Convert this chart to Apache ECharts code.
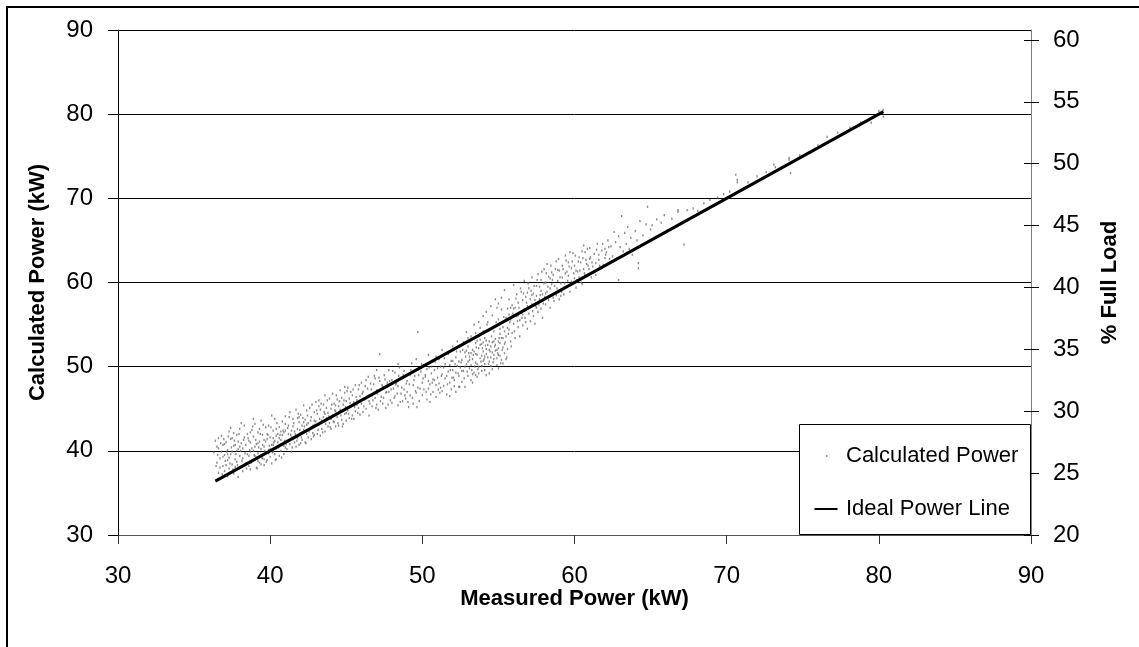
<!DOCTYPE html>
<html>
<head>
<meta charset="utf-8">
<script src="https://cdn.jsdelivr.net/npm/echarts@6/dist/echarts.min.js"></script>
<style>
html,body{margin:0;padding:0;background:#fff}
#chart{width:1139px;height:647px}
</style>
</head>
<body>
<div id="chart"></div>
<script>
// Axis ranges and tick values
const measuredTicks = [30, 40, 50, 60, 70, 80, 90];
const calculatedTicks = [30, 40, 50, 60, 70, 80, 90];
const fullLoadTicks = [20, 25, 30, 35, 40, 45, 50, 55, 60];
const fullLoadRange = [20, 60.8];

// Ideal power line: calculated equals measured
const idealLine = [[36.4, 36.4], [80.3, 80.3]];

// Calculated vs measured power samples [measured kW, calculated kW], by measured band
const band36to38 = [
  [36.3,39.8],[36.4,41.2],[36.5,38.6],[36.6,40.3],[36.6,37.4],[36.7,39.1],[36.8,41.8],[36.9,38.2],[36.9,40.7],[37.0,39.5],
  [37.0,37.6],[37.1,41.0],[37.2,38.9],[37.2,40.1],[37.3,42.3],[37.3,37.9],[37.4,39.6],[37.5,38.4],[37.5,41.5],[37.6,40.6],
  [37.6,37.3],[37.7,39.0],[37.8,41.9],[37.8,38.7],[37.9,40.2],[37.9,36.9],[38.0,39.4],[38.0,42.6],[38.1,38.1],[38.1,40.9],
  [36.7,38.0],[36.8,39.9],[37.0,40.8],[37.1,38.3],[37.4,41.4],[37.5,39.9],[37.7,38.1],[37.9,41.1],[38.0,40.5],[37.3,39.2],
  [36.5,40.5],[36.9,39.3],[37.2,37.0],[37.6,42.1],[37.8,40.0],[38.2,39.1],[38.2,37.6],[38.3,41.6],[38.3,43.0],[38.4,38.5]
];
const band38to40 = [
  [38.4,40.7],[38.5,39.6],[38.5,42.0],[38.6,38.2],[38.6,41.2],[38.7,39.9],[38.7,37.8],[38.8,42.5],[38.8,40.3],[38.9,38.9],
  [38.9,41.7],[39.0,39.4],[39.0,43.2],[39.1,40.8],[39.1,38.0],[39.2,42.2],[39.2,39.7],[39.3,41.1],[39.3,38.6],[39.4,40.2],
  [39.4,43.6],[39.5,39.1],[39.5,41.9],[39.6,40.5],[39.6,38.3],[39.7,42.8],[39.7,39.8],[39.8,41.4],[39.8,38.9],[39.9,40.1],
  [39.9,43.0],[40.0,39.3],[40.0,41.6],[40.1,40.7],[40.1,38.5],[40.2,42.4],[40.2,39.9],[40.3,41.2],[40.3,43.8],[40.4,40.3],
  [40.4,39.0],[40.5,42.0],[40.5,41.0],[38.6,39.4],[38.9,40.0],[39.2,40.9],[39.5,40.7],[39.8,42.0],[40.0,40.2],[40.3,39.6],
  [38.7,41.0],[39.0,40.5],[39.3,42.6],[39.6,41.3],[39.9,39.7],[40.2,41.5],[40.4,42.6],[39.1,39.2],[39.4,38.4],[40.1,44.2]
];
const band37to41b = [
  [36.45,38.2],[36.55,39.5],[36.75,40.9],[36.85,37.2],[36.95,41.4],[37.05,38.8],[37.15,39.9],[37.25,41.7],[37.35,38.5],[37.45,40.4],
  [37.55,37.8],[37.65,41.2],[37.75,39.6],[37.85,38.3],[37.95,42.0],[38.05,40.0],[38.15,38.8],[38.25,41.3],[38.35,39.7],[38.45,37.9],
  [38.55,41.5],[38.65,40.1],[38.75,38.6],[38.85,42.9],[38.95,39.5],[39.05,41.3],[39.15,37.9],[39.25,40.4],[39.35,42.0],[39.45,39.2],
  [39.55,43.1],[39.65,40.0],[39.75,38.7],[39.85,41.9],[39.95,40.6],[40.05,42.8],[40.15,39.8],[40.25,41.0],[40.35,38.9],[40.45,43.3],
  [40.55,40.4],[40.65,41.9],[40.75,39.2],[40.85,42.4],[40.95,41.2],[37.2,39.6],[37.7,40.7],[38.2,40.3],[38.7,42.2],[39.2,38.8],
  [39.7,41.1],[40.2,40.7],[40.7,42.3],[36.6,41.5],[37.4,42.7],[38.1,43.3],[38.9,43.8],[39.6,39.0],[40.4,41.8],[41.0,43.2]
];
const band40to43 = [
  [40.6,39.4],[40.6,42.8],[40.7,41.3],[40.7,40.0],[40.8,43.5],[40.8,41.9],[40.9,40.6],[40.9,39.6],[41.0,42.4],[41.0,44.1],
  [41.1,41.2],[41.1,40.2],[41.2,43.0],[41.2,42.0],[41.3,40.8],[41.3,44.6],[41.4,41.6],[41.4,39.9],[41.5,42.9],[41.5,43.8],
  [41.6,41.0],[41.6,42.3],[41.7,40.5],[41.7,44.9],[41.8,42.6],[41.8,41.5],[41.9,43.4],[41.9,40.7],[42.0,42.1],[42.0,44.3],
  [42.1,41.3],[42.1,43.0],[42.2,45.4],[42.2,42.5],[42.3,41.0],[42.3,43.7],[42.4,42.0],[42.4,44.8],[42.5,41.6],[42.5,43.3],
  [42.6,42.6],[42.6,45.1],[42.7,41.4],[42.7,44.0],[42.8,43.0],[42.8,42.1],[42.9,44.6],[42.9,41.9],[43.0,43.5],[43.0,45.8],
  [40.6,41.5],[40.9,42.2],[41.2,41.1],[41.5,41.4],[41.8,43.9],[42.1,42.2],[42.4,43.1],[42.7,42.8],[41.0,40.4],[42.0,40.9]
];
const band43to46 = [
  [43.1,42.0],[43.1,44.4],[43.2,43.1],[43.2,46.0],[43.3,41.8],[43.3,44.9],[43.4,43.6],[43.4,42.6],[43.5,45.5],[43.5,44.0],
  [43.6,42.3],[43.6,46.6],[43.7,43.9],[43.7,45.1],[43.8,42.9],[43.8,44.5],[43.9,46.2],[43.9,43.3],[44.0,45.0],[44.0,42.6],
  [44.1,44.2],[44.1,46.8],[44.2,43.4],[44.2,45.6],[44.3,44.7],[44.3,42.9],[44.4,46.1],[44.4,44.0],[44.5,45.3],[44.5,43.0],
  [44.6,47.2],[44.6,44.9],[44.7,43.7],[44.7,46.3],[44.8,45.5],[44.8,43.2],[44.9,46.9],[44.9,44.4],[45.0,45.9],[45.0,43.6],
  [45.1,44.8],[45.1,47.5],[45.2,46.2],[45.2,43.9],[45.3,45.3],[45.3,47.0],[45.4,44.2],[45.4,46.6],[45.5,45.8],[45.5,43.8],
  [45.6,47.8],[45.6,44.7],[45.7,46.0],[45.8,45.1],[45.8,47.3],[45.9,44.3],[45.9,46.5],[46.0,45.6],[46.0,48.1],[44.0,43.8]
];
const band41to46b = [
  [41.05,40.8],[41.15,42.7],[41.25,44.0],[41.35,41.9],[41.45,40.4],[41.55,43.3],[41.65,42.0],[41.75,41.2],[41.85,44.4],[41.95,42.5],
  [42.05,41.6],[42.15,43.9],[42.25,42.9],[42.35,40.9],[42.45,44.2],[42.55,42.3],[42.65,43.6],[42.75,45.5],[42.85,41.7],[42.95,43.1],
  [43.05,44.8],[43.15,42.5],[43.25,43.8],[43.35,45.6],[43.45,42.2],[43.55,44.6],[43.65,43.2],[43.75,46.0],[43.85,44.1],[43.95,42.8],
  [44.05,45.5],[44.15,43.5],[44.25,44.8],[44.35,46.6],[44.45,43.3],[44.55,45.9],[44.65,44.2],[44.75,42.9],[44.85,46.0],[44.95,45.2],
  [45.05,47.1],[45.15,44.4],[45.25,45.7],[45.35,43.8],[45.45,47.3],[45.55,45.2],[45.65,46.4],[45.75,44.5],[45.85,47.8],[45.95,45.9],
  [41.4,42.4],[42.2,43.4],[42.9,43.6],[43.6,44.4],[44.3,45.4],[45.0,44.5],[45.7,45.5],[44.9,47.6],[43.2,45.3],[41.9,44.0]
];
const band46to50 = [
  [46.1,44.6],[46.1,47.0],[46.2,46.1],[46.3,48.4],[46.3,45.0],[46.4,47.4],[46.5,45.9],[46.5,44.2],[46.6,48.0],[46.7,46.6],
  [46.7,45.3],[46.8,47.9],[46.9,46.3],[46.9,48.6],[47.0,45.5],[47.0,47.2],[47.1,44.9],[47.2,48.3],[47.2,51.5],[47.3,46.4],
  [47.4,47.6],[47.4,45.6],[47.5,49.0],[47.6,46.9],[47.6,45.1],[47.7,48.1],[47.8,47.0],[47.8,49.6],[47.9,46.0],[48.0,48.4],
  [48.0,45.7],[48.1,47.4],[48.2,49.3],[48.2,46.5],[48.3,48.0],[48.4,45.4],[48.4,47.7],[48.5,49.9],[48.6,46.8],[48.6,48.7],
  [48.7,45.9],[48.8,47.3],[48.8,49.5],[48.9,46.2],[49.0,48.3],[49.0,47.0],[49.1,45.2],[49.2,49.0],[49.2,46.6],[49.3,50.4],
  [49.4,47.8],[49.4,45.6],[49.5,48.9],[49.6,46.9],[49.6,50.9],[49.7,54.1],[49.7,47.5],[49.8,45.9],[49.9,49.4],[50.0,48.1]
];
const band50to52 = [
  [50.0,46.6],[50.1,50.2],[50.1,47.3],[50.2,48.8],[50.3,46.1],[50.3,49.7],[50.4,51.4],[50.5,47.9],[50.5,45.8],[50.6,49.2],
  [50.7,50.6],[50.7,47.0],[50.8,48.4],[50.9,51.2],[50.9,46.4],[51.0,49.8],[51.1,48.0],[51.1,50.9],[51.2,47.5],[51.3,52.0],
  [51.3,49.1],[51.4,47.7],[51.5,50.3],[51.5,48.6],[51.6,46.7],[51.7,51.5],[51.7,49.4],[51.8,48.1],[51.9,50.7],[51.9,47.3],
  [52.0,52.4],[52.0,49.6],[52.1,48.4],[52.2,51.1],[52.2,47.0],[52.3,50.1],[52.3,53.0],[52.4,48.9],[52.5,51.8],[52.5,49.9],
  [50.2,49.0],[50.4,48.3],[50.6,50.0],[50.8,49.6],[51.0,48.7],[51.2,50.0],[51.4,49.9],[51.6,48.9],[51.8,50.2],[52.0,50.7],
  [52.2,49.3],[52.4,50.6],[50.9,47.8],[51.3,47.1],[51.8,46.5],[52.1,47.7],[50.4,47.4],[51.6,51.6],[52.4,47.6],[50.7,48.5]
];
const band46to52b = [
  [46.05,46.8],[46.15,45.3],[46.25,47.7],[46.35,46.4],[46.45,48.8],[46.55,45.6],[46.65,47.3],[46.75,46.0],[46.85,48.9],[46.95,45.1],
  [47.05,46.8],[47.15,48.7],[47.25,45.9],[47.35,47.8],[47.45,46.3],[47.55,48.5],[47.65,47.0],[47.75,45.5],[47.85,48.3],[47.95,47.3],
  [48.05,49.5],[48.15,46.3],[48.25,47.9],[48.35,46.8],[48.45,48.9],[48.55,45.8],[48.65,47.5],[48.75,49.0],[48.85,46.6],[48.95,48.0],
  [49.05,45.8],[49.15,47.9],[49.25,49.6],[49.35,46.3],[49.45,48.4],[49.55,47.1],[49.65,45.2],[49.75,49.0],[49.85,47.4],[49.95,50.3],
  [50.05,48.6],[50.25,47.0],[50.45,49.9],[50.65,48.1],[50.85,50.6],[51.05,47.3],[51.25,48.9],[51.45,51.0],[51.65,47.9],[51.85,49.6],
  [51.95,48.7],[50.55,46.7],[51.15,46.9],[47.0,49.6],[48.4,50.3]
];
const band52to55 = [
  [52.6,48.2],[52.6,50.8],[52.7,52.9],[52.7,49.5],[52.8,47.6],[52.8,51.7],[52.9,54.1],[52.9,50.3],[53.0,48.9],[53.0,52.4],
  [53.1,51.2],[53.1,49.8],[53.2,53.6],[53.2,48.4],[53.3,50.9],[53.3,52.0],[53.4,55.0],[53.4,49.3],[53.5,51.5],[53.5,50.5],
  [53.6,53.1],[53.6,48.8],[53.7,52.2],[53.7,50.0],[53.8,54.6],[53.8,51.0],[53.9,49.5],[53.9,52.7],[54.0,51.8],[54.0,56.0],
  [54.1,50.3],[54.1,53.4],[54.2,49.0],[54.2,52.1],[54.3,51.1],[54.3,55.3],[54.4,50.6],[54.4,53.0],[54.5,52.4],[54.5,57.2],
  [54.6,49.7],[54.6,51.7],[54.7,54.2],[54.7,50.9],[54.8,53.3],[54.8,58.0],[54.9,52.0],[54.9,50.2],[55.0,55.6],[55.0,51.4],
  [55.1,53.9],[55.1,52.8],[55.2,50.8],[55.2,56.8],[55.3,52.3],[55.3,54.7],[55.4,51.6],[55.4,59.1],[55.5,53.6],[55.5,55.8],
  [52.8,50.0],[53.0,50.6],[53.2,51.6],[53.4,51.8],[53.6,51.4],[53.8,52.6],[54.0,52.9],[54.2,53.1],[54.4,52.0],[54.6,52.9],
  [54.8,51.9],[55.0,53.0],[55.2,53.4],[55.4,54.2],[53.1,50.8],[53.5,52.8],[53.9,51.3],[54.3,52.6],[54.7,53.0],[55.1,51.3],
  [53.3,48.1],[53.7,49.2],[54.1,49.6],[54.5,50.1],[54.9,51.0],[55.3,50.4],[54.0,54.2],[54.6,56.1],[53.5,54.0],[55.0,57.5]
];
const band52to56b = [
  [52.05,48.7],[52.15,50.3],[52.25,51.8],[52.35,49.2],[52.45,47.6],[52.55,50.5],[52.65,52.0],[52.75,48.6],[52.85,51.2],[52.95,49.4],
  [53.05,51.6],[53.15,53.0],[53.25,49.6],[53.35,51.4],[53.45,50.0],[53.55,52.3],[53.65,49.7],[53.75,53.7],[53.85,50.6],[53.95,52.2],
  [54.05,50.9],[54.15,52.5],[54.25,55.0],[54.35,50.3],[54.45,51.8],[54.55,53.6],[54.65,50.5],[54.75,52.4],[54.85,55.3],[54.95,51.6],
  [55.05,53.4],[55.15,50.4],[55.25,52.0],[55.35,55.9],[55.45,52.9],[55.55,51.1],[55.65,53.9],[55.75,55.3],[55.85,52.4],[55.95,56.3],
  [53.0,53.4],[53.3,49.1],[53.6,50.3],[53.9,50.1],[54.2,51.5],[54.5,51.1],[54.8,52.6],[55.1,54.5],[55.4,52.7],[55.7,56.2],
  [52.9,51.9],[53.2,50.2],[53.5,49.0],[53.8,53.2],[54.1,51.2],[54.4,54.3],[54.7,51.4],[55.0,52.2],[55.3,53.4],[55.6,54.6],
  [54.2,56.5],[54.9,57.0],[55.2,58.2],[53.7,55.3],[54.4,49.2],[55.0,49.8],[55.5,50.9],[53.4,53.4],[52.6,49.5],[54.0,50.7]
];
const band55to58 = [
  [55.6,52.1],[55.6,56.9],[55.7,54.4],[55.7,58.0],[55.8,53.0],[55.8,55.6],[55.9,57.3],[55.9,54.0],[56.0,59.7],[56.0,55.1],
  [56.1,53.4],[56.1,57.0],[56.2,56.0],[56.2,58.6],[56.3,54.7],[56.3,57.6],[56.4,55.5],[56.4,53.6],[56.5,58.9],[56.5,56.4],
  [56.6,54.9],[56.6,57.9],[56.7,56.8],[56.7,60.2],[56.8,55.3],[56.8,58.3],[56.9,57.2],[56.9,54.5],[57.0,59.3],[57.0,56.3],
  [57.1,58.0],[57.1,55.4],[57.2,60.6],[57.2,57.4],[57.3,56.0],[57.3,58.7],[57.4,57.9],[57.4,55.1],[57.5,59.6],[57.5,58.4],
  [57.6,56.5],[57.6,61.0],[57.7,58.0],[57.7,59.5],[57.8,56.9],[57.8,60.3],[57.9,58.6],[57.9,55.8],[58.0,59.9],[58.0,61.6],
  [58.1,57.4],[58.1,60.0],[58.2,58.9],[58.2,62.2],[58.3,57.9],[58.3,60.7],[58.4,59.3],[58.4,57.0],[58.5,61.2],[58.5,59.8],
  [55.8,57.0],[56.0,56.9],[56.3,56.1],[56.6,56.2],[56.9,58.8],[57.2,58.5],[57.5,57.0],[57.8,59.0],[58.1,58.7],[58.4,60.5]
];
const band58to62 = [
  [58.6,58.2],[58.6,60.9],[58.7,59.6],[58.8,62.5],[58.8,58.5],[58.9,60.2],[59.0,61.4],[59.0,58.0],[59.1,59.9],[59.2,62.0],
  [59.2,60.6],[59.3,58.6],[59.4,61.1],[59.4,63.2],[59.5,59.5],[59.6,60.8],[59.6,62.4],[59.7,58.9],[59.8,61.7],[59.8,60.1],
  [59.9,63.5],[60.0,60.5],[60.0,62.0],[60.1,59.4],[60.2,61.3],[60.3,63.0],[60.3,60.6],[60.4,62.4],[60.5,59.8],[60.6,61.6],
  [60.7,63.6],[60.7,60.9],[60.8,62.2],[60.9,61.0],[61.0,64.1],[61.0,62.8],[61.1,60.6],[61.2,61.9],[61.3,63.4],[61.4,62.3],
  [61.4,60.9],[61.5,64.6],[61.6,62.7],[61.7,61.6],[61.8,63.8],[61.9,62.1],[62.0,64.0],[62.0,62.9],[59.1,58.4],[60.5,63.7],
  [59.5,61.3],[60.1,61.4],[60.9,62.0],[61.6,63.3],[58.9,61.5]
];
const band56to62b = [
  [56.05,54.2],[56.15,58.1],[56.25,55.4],[56.35,57.0],[56.45,59.3],[56.55,55.8],[56.65,58.7],[56.75,55.8],[56.85,57.6],[56.95,59.9],
  [57.05,57.1],[57.15,59.0],[57.25,56.6],[57.35,59.6],[57.45,57.2],[57.55,60.3],[57.65,57.4],[57.75,58.5],[57.85,61.3],[57.95,57.5],
  [58.05,58.3],[58.15,61.1],[58.25,59.5],[58.35,58.4],[58.45,62.0],[58.55,60.3],[58.65,57.8],[58.75,61.6],[58.85,59.3],[58.95,62.8],
  [59.05,60.6],[59.15,58.9],[59.25,61.6],[59.35,59.9],[59.45,62.6],[59.55,60.2],[59.65,61.9],[59.75,59.7],[59.85,62.5],[59.95,61.1],
  [60.05,63.2],[60.15,60.3],[60.25,62.5],[60.35,61.4],[60.45,60.0],[60.55,62.9],[60.65,61.1],[60.75,62.7],[60.85,64.0],[60.95,61.6],
  [61.05,63.0],[61.25,61.2],[61.45,63.9],[61.65,62.0],[61.85,64.6],[62.05,63.3],[62.25,64.2],[61.15,62.4],[60.6,64.4],[59.7,63.6]
];
const band62to66 = [
  [62.1,63.6],[62.2,65.0],[62.3,62.8],[62.4,64.3],[62.5,63.1],[62.6,66.0],[62.7,64.8],[62.8,62.9],[62.9,60.3],[62.9,65.5],
  [63.0,64.2],[63.1,67.9],[63.2,63.7],[63.3,65.9],[63.4,64.6],[63.5,66.6],[63.6,64.0],[63.7,65.3],[63.8,63.3],[64.0,66.1],
  [64.1,65.0],[64.2,61.7],[64.2,62.3],[64.3,67.3],[64.5,65.6],[64.7,66.9],[64.8,69.0],[65.0,66.3],[65.1,66.8],[65.4,67.5],
  [65.7,67.1],[66.1,66.2],[65.9,68.0]
];
const band66to81 = [
  [66.4,67.6],[66.8,68.4],[66.8,68.6],[67.2,64.5],[67.4,68.6],[67.8,68.8],[68.1,68.5],[68.5,69.4],[68.9,69.8],[69.4,70.1],
  [69.8,70.5],[70.2,70.8],[70.6,72.8],[70.7,71.9],[70.7,72.2],[71.4,71.9],[72.0,72.6],[72.6,73.1],[73.1,74.0],[73.2,73.7],
  [74.1,74.6],[74.1,74.8],[74.2,73.0],[74.8,75.1],[75.5,75.4],[76.0,76.3],[76.6,77.3],[77.3,77.8],[78.1,78.4],[78.8,79.0],
  [79.5,79.0],[80.0,80.4],[80.3,79.7],[80.3,80.5]
];

const calculatedPower = [].concat(
  band36to38, band38to40, band37to41b, band40to43, band43to46, band41to46b,
  band46to50, band50to52, band46to52b, band52to55, band52to56b,
  band55to58, band58to62, band56to62b, band62to66, band66to81
);

const FONT = "'Liberation Sans', Arial, Helvetica, sans-serif";
const chart = echarts.init(document.getElementById('chart'), null, { renderer: 'canvas' });

const tickLabel = { color: '#000', fontFamily: FONT, fontSize: 24 };
const axisTitle = { color: '#000', fontFamily: FONT, fontSize: 22, fontWeight: 'bold' };

chart.setOption({
  backgroundColor: '#fff',
  animation: false,
  grid: { left: 118, top: 30, right: 108, bottom: 112, containLabel: false },
  xAxis: {
    type: 'value', min: 30, max: 90, interval: 10,
    name: 'Measured Power (kW)', nameLocation: 'middle', nameGap: 53, nameMoveOverlap: false,
    nameTextStyle: axisTitle,
    axisLine: { show: true, lineStyle: { color: '#555', width: 1 } },
    axisTick: { show: true, inside: false, length: 9, lineStyle: { color: '#333' }, customValues: measuredTicks },
    axisLabel: Object.assign({ margin: 29, customValues: measuredTicks }, tickLabel),
    splitLine: { show: false }
  },
  yAxis: [
    {
      type: 'value', min: 30, max: 90, interval: 10, position: 'left',
      name: 'Calculated Power (kW)', nameLocation: 'middle', nameGap: 69, nameRotate: 90, nameTextStyle: axisTitle,
      axisLine: { show: true, lineStyle: { color: '#000', width: 1 } },
      axisTick: { show: true, inside: false, length: 10, lineStyle: { color: '#000' }, customValues: calculatedTicks },
      axisLabel: Object.assign({ margin: 25, customValues: calculatedTicks }, tickLabel),
      splitLine: { show: true, lineStyle: { color: '#000', width: 1 } }
    },
    {
      type: 'value', min: fullLoadRange[0], max: fullLoadRange[1], position: 'right',
      name: '% Full Load', nameLocation: 'middle', nameGap: 68, nameRotate: 90, nameTextStyle: axisTitle,
      axisLine: { show: true, lineStyle: { color: '#808080', width: 1 } },
      axisTick: { show: true, inside: false, length: 8, lineStyle: { color: '#000' }, customValues: fullLoadTicks },
      axisLabel: Object.assign({ margin: 22, customValues: fullLoadTicks }, tickLabel),
      splitLine: { show: false }
    },
    {
      // inner half of the crossing ticks on the % Full Load axis
      type: 'value', min: fullLoadRange[0], max: fullLoadRange[1], position: 'right',
      axisLine: { show: false },
      axisTick: { show: true, inside: true, length: 7, lineStyle: { color: '#000' }, customValues: fullLoadTicks },
      axisLabel: { show: false },
      splitLine: { show: false }
    }
  ],
  legend: {
    orient: 'vertical',
    left: 806, top: 440,
    padding: 5,
    itemWidth: 30, itemHeight: 2, itemGap: 31,
    textStyle: { color: '#000', fontFamily: FONT, fontSize: 22 },
    data: [
      { name: 'Calculated Power', icon: 'path://M0,0M30,2M15,0h1.4v2h-1.4z', itemStyle: { color: '#808080' } },
      { name: 'Ideal Power Line', icon: 'path://M0,0h30v2.6h-30z', itemStyle: { color: '#000' } }
    ]
  },
  graphic: [
    {
      // legend frame
      type: 'rect', z: 3,
      shape: { x: 799.5, y: 424.5, width: 231, height: 110 },
      style: { fill: '#fff', stroke: '#000', lineWidth: 1 }
    },
    {
      // chart frame
      type: 'rect', z: 10, silent: true,
      shape: { x: 7, y: 7, width: 1150, height: 660 },
      style: { fill: 'none', stroke: '#000', lineWidth: 2 }
    }
  ],
  series: [
    {
      name: 'Calculated Power', type: 'scatter',
      symbol: 'rect', symbolSize: [1.4, 2.2],
      itemStyle: { color: '#6e6e6e' },
      data: calculatedPower,
      z: 2
    },
    {
      name: 'Ideal Power Line', type: 'line',
      data: idealLine, symbol: 'none',
      lineStyle: { color: '#000', width: 3 },
      z: 3
    }
  ]
});
</script>
</body>
</html>
